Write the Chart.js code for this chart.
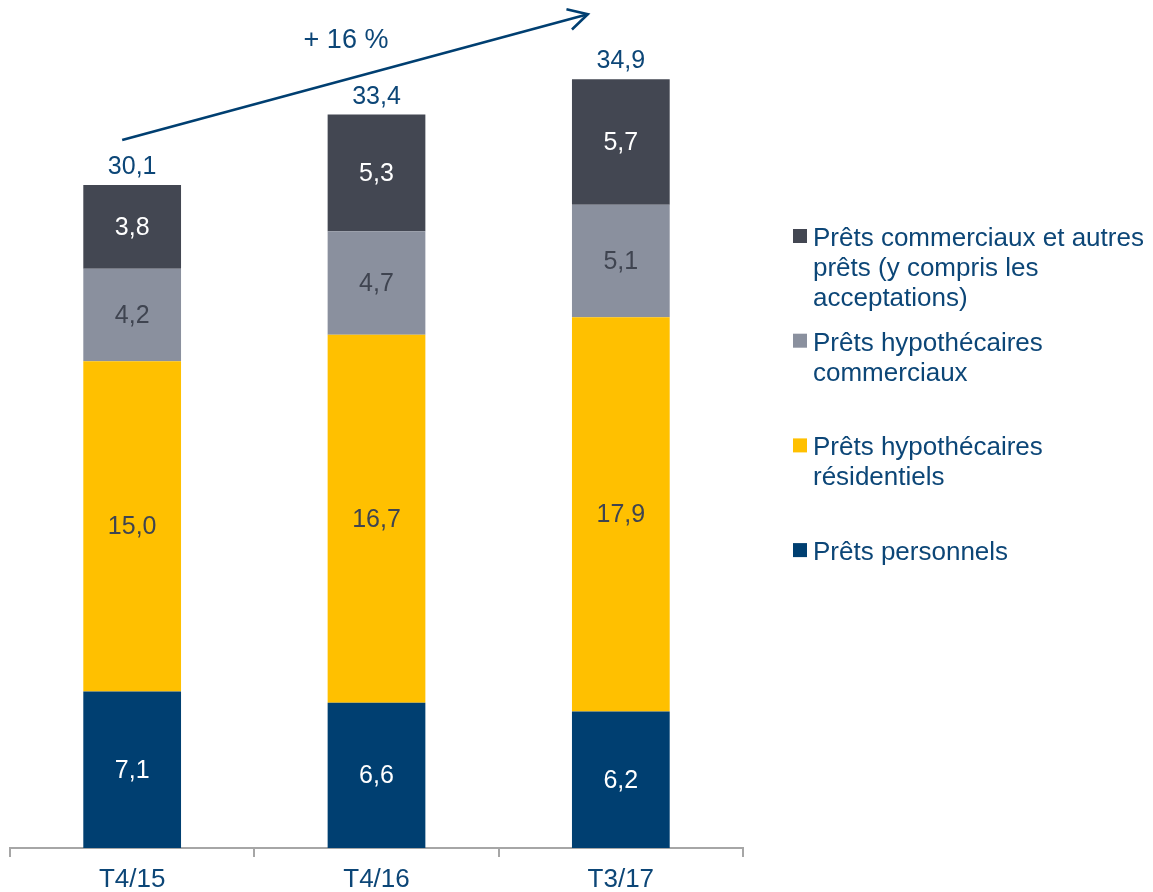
<!DOCTYPE html>
<html>
<head>
<meta charset="utf-8">
<title>Prêts</title>
<script src="https://cdn.jsdelivr.net/npm/chart.js@4/dist/chart.umd.min.js"></script>
<style>
  html, body { margin: 0; padding: 0; background: #fff; }
  #wrap { position: relative; width: 1153px; height: 892px; }
</style>
</head>
<body>
<div id="wrap"><canvas id="loans"></canvas></div>
<script>
// periods and loan book segments (stacked bottom to top), in G$
const periods = ['T4/15', 'T4/16', 'T3/17'];
const personnels = [7.1, 6.6, 6.2];
const hypoResidentiels = [15.0, 16.7, 17.9];
const hypoCommerciaux = [4.2, 4.7, 5.1];
const commerciauxAutres = [3.8, 5.3, 5.7];
const totals = [30.1, 33.4, 34.9];
const growthLabel = '+ 16 %';

// legend text, top entry first, broken as in the deck
const legendLines = [
  ['Prêts commerciaux et autres', 'prêts (y compris les', 'acceptations)'],
  ['Prêts hypothécaires', 'commerciaux'],
  ['Prêts hypothécaires', 'résidentiels'],
  ['Prêts personnels']
];

const NAVY = '#003f71';
const TEXT = '#0c4677';
const FONT = '"Liberation Sans", Arial, sans-serif';

const fmt = v => v.toFixed(1).replace('.', ',');

// values inside segments, totals above bars
const valueLabels = {
  id: 'valueLabels',
  afterDatasetsDraw(chart) {
    const ctx = chart.ctx;
    ctx.save();
    ctx.font = '25px ' + FONT;
    ctx.textAlign = 'center';
    ctx.textBaseline = 'middle';
    chart.data.datasets.forEach((ds, i) => {
      chart.getDatasetMeta(i).data.forEach((bar, j) => {
        ctx.fillStyle = ds.labelColor;
        ctx.fillText(fmt(ds.data[j]), bar.x, (bar.y + bar.base) / 2 + 1);
      });
    });
    const top = chart.getDatasetMeta(chart.data.datasets.length - 1).data;
    ctx.fillStyle = TEXT;
    ctx.textBaseline = 'alphabetic';
    top.forEach((bar, j) => {
      ctx.fillText(fmt(totals[j]), bar.x, bar.y - 11);
    });
    ctx.restore();
  }
};

// growth arrow from the first to the last period
const growthArrow = {
  id: 'growthArrow',
  afterDraw(chart) {
    const ctx = chart.ctx;
    const first = chart.getDatasetMeta(3).data[0];
    const last = chart.getDatasetMeta(3).data[2];
    const x0 = first.x - 10, y0 = first.y - 45;
    const x1 = last.x - 33, y1 = last.y - 65;
    const ang = Math.atan2(y1 - y0, x1 - x0);
    ctx.save();
    ctx.strokeStyle = NAVY;
    ctx.lineWidth = 2.6;
    ctx.beginPath();
    ctx.moveTo(x0, y0);
    ctx.lineTo(x1, y1);
    ctx.stroke();
    ctx.beginPath();
    ctx.moveTo(x1 - 22 * Math.cos(ang - 0.5), y1 - 22 * Math.sin(ang - 0.5));
    ctx.lineTo(x1, y1);
    ctx.lineTo(x1 - 22 * Math.cos(ang + 0.5), y1 - 22 * Math.sin(ang + 0.5));
    ctx.stroke();
    ctx.fillStyle = TEXT;
    ctx.font = '27px ' + FONT;
    ctx.textAlign = 'center';
    ctx.textBaseline = 'alphabetic';
    ctx.fillText(growthLabel, (x0 + x1) / 2 - 9, y1 + 34);
    ctx.restore();
  }
};

// legend on the right with wrapped labels
const sideLegend = {
  id: 'sideLegend',
  afterDraw(chart) {
    const ctx = chart.ctx;
    const sets = chart.data.datasets.slice().reverse();
    const x = chart.chartArea.right + 50;
    ctx.save();
    ctx.font = '26px ' + FONT;
    ctx.textAlign = 'left';
    ctx.textBaseline = 'alphabetic';
    sets.forEach((ds, i) => {
      const y = 229 + i * 104.7;
      ctx.fillStyle = ds.backgroundColor;
      ctx.fillRect(x, y, 14, 14);
      ctx.fillStyle = TEXT;
      legendLines[i].forEach((line, k) => {
        ctx.fillText(line, x + 20, y + 17 + k * 30);
      });
    });
    ctx.restore();
  }
};

const config = {
  type: 'bar',
  data: {
    labels: periods,
    datasets: [
      { label: 'Prêts personnels', data: personnels, backgroundColor: NAVY, labelColor: '#ffffff' },
      { label: 'Prêts hypothécaires résidentiels', data: hypoResidentiels, backgroundColor: '#ffc000', labelColor: '#3f4450' },
      { label: 'Prêts hypothécaires commerciaux', data: hypoCommerciaux, backgroundColor: '#8a909e', labelColor: '#3f4450' },
      { label: 'Prêts commerciaux et autres prêts (y compris les acceptations)', data: commerciauxAutres, backgroundColor: '#434752', labelColor: '#ffffff' }
    ]
  },
  options: {
    responsive: false,
    animation: false,
    layout: { padding: { left: 10, right: 410, top: 0, bottom: 0 } },
    datasets: { bar: { categoryPercentage: 1, barPercentage: 0.4, borderWidth: 0 } },
    plugins: { legend: { display: false }, tooltip: { enabled: false } },
    scales: {
      x: {
        stacked: true,
        grid: { drawOnChartArea: false, drawTicks: true, tickLength: 9, color: '#a6a6a6', lineWidth: 2 },
        border: { display: true, color: '#a6a6a6', width: 2 },
        ticks: { color: TEXT, font: { family: FONT, size: 26 }, padding: 7 },
        afterFit(scale) { scale.height = 44; }
      },
      y: { stacked: true, display: false, min: 0, max: 38.5 }
    }
  },
  plugins: [valueLabels, growthArrow, sideLegend]
};

const canvas = document.getElementById('loans');
canvas.width = 1153;
canvas.height = 892;
new Chart(canvas.getContext('2d'), config);
</script>
</body>
</html>
